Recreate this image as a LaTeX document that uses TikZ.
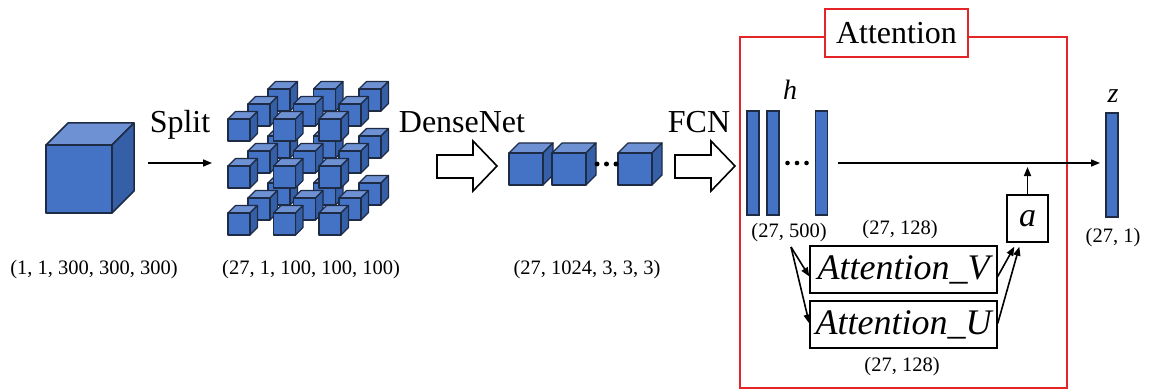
\documentclass[tikz,border=0pt]{standalone}
\usepackage{fontspec}
\setmainfont{Liberation Serif}
\usetikzlibrary{arrows.meta,calc}
\definecolor{cfront}{HTML}{4472C4}
\definecolor{ctop}{HTML}{6E91D3}
\definecolor{cside}{HTML}{3560A8}
\definecolor{cedge}{HTML}{1E2B45}
\definecolor{cred}{HTML}{E42528}
\newcommand\mycube[6]{%
  \filldraw[fill=ctop,draw=cedge,line width=#6,line join=round] (#1,#2) -- ++(#5,-#5) -- ++(#3,0) -- ++(-#5,#5) -- cycle;
  \filldraw[fill=cside,draw=cedge,line width=#6,line join=round] (#1+#3,#2) -- ++(#5,-#5) -- ++(0,#4) -- ++(-#5,#5) -- cycle;
  \filldraw[fill=cfront,draw=cedge,line width=#6,line join=round] (#1,#2) rectangle ++(#3,#4);
}
\begin{document}
\begin{tikzpicture}[x=1pt,y=-1pt,
  bigtxt/.style={font=\fontsize{32}{38}\selectfont},
  lbl/.style={font=\fontsize{20.5}{24}\selectfont},
  mathtxt/.style={font=\fontsize{28}{32}\selectfont\itshape},
  arr/.style={line width=1.6pt,-{Triangle[length=9pt,width=7pt]}},
  hollow/.style={line width=1.6pt,draw=black,fill=white,line join=miter},
  bar/.style={draw=cedge,fill=cfront,line width=1.2pt,minimum width=12pt,minimum height=104pt,inner sep=0pt},
  attbox/.style={draw=black,line width=1.4pt,minimum width=187pt,minimum height=47pt,inner sep=0pt,font=\fontsize{36}{40}\selectfont\itshape},
  dot/.style={circle,fill=black,inner sep=0pt,minimum size=5pt}
]
\useasboundingbox (0,0) rectangle (1155,390);

% big cube
\mycube{46}{145}{66}{68}{22}{1.5pt}
\coordinate (splitA) at (148,163);
\coordinate (splitB) at (212,163);
\draw[arr] (splitA) -- (splitB);
\node[bigtxt,anchor=base] (split) at (180,133) {Split};

% 3x3x3 grid of cubes
\foreach \L in {2,1,0}{
  \foreach \r in {0,1,2}{
    \foreach \c in {0,1,2}{
      \pgfmathsetmacro\cx{228+45.5*\c+20*\L}
      \pgfmathsetmacro\cy{119+47*\r-15*\L}
      \mycube{\cx}{\cy}{22}{22}{7.5}{1.1pt}
    }
  }
}

% DenseNet
\node[bigtxt,anchor=base] (dense) at (462,133) {DenseNet};
\draw[hollow] (437,155) -- (473,155) -- (473,141) -- (497,166) -- (473,191) -- (473,178) -- (437,178) -- cycle;

% dense cubes
\mycube{509}{153}{34}{32}{10}{1.2pt}
\mycube{552}{153}{34}{32}{10}{1.2pt}
\mycube{618}{153}{34}{32}{10}{1.2pt}
\node[dot] (d1) at (597,164) {};
\node[dot] (d2) at (606.5,164) {};
\node[dot] (d3) at (616,164) {};

% FCN
\node[bigtxt,anchor=base] (fcn) at (699,133) {FCN};
\draw[hollow] (675,155) -- (711,155) -- (711,141) -- (735,166) -- (711,191) -- (711,178) -- (675,178) -- cycle;

% labels
\node[lbl] (l1) at (94,270) {(1, 1, 300, 300, 300)};
\node[lbl] (l2) at (311,270) {(27, 1, 100, 100, 100)};
\node[lbl] (l3) at (587,270) {(27, 1024, 3, 3, 3)};

% attention frame
\draw[cred,line width=1.5pt] (740,37) rectangle (1067,388);
\node[draw=cred,fill=white,line width=2pt,minimum width=143pt,minimum height=48pt,inner sep=0pt,bigtxt] (atitle) at (896.5,33) {Attention};

% h bars
\node[bar] (h1) at (753,163) {};
\node[bar] (h2) at (773,163) {};
\node[bar] (h3) at (821.5,163) {};
\node[dot,minimum size=4.6pt] (hd1) at (787.5,163) {};
\node[dot,minimum size=4.6pt] (hd2) at (797,163) {};
\node[dot,minimum size=4.6pt] (hd3) at (806.5,163) {};
\node[mathtxt,anchor=base] (hlab) at (790,100) {h};
\node[lbl] (l4) at (789,233) {(27, 500)};

% z bar
\node[bar] (zbar) at (1112,165) {};
\node[mathtxt,anchor=base] (zlab) at (1113,103) {z};
\node[lbl] (l5) at (1113,238) {(27, 1)};

\draw[arr,shorten <=10pt,shorten >=12pt] (h3) -- (h3 -| zbar);

% a box
\node[draw=black,line width=1.4pt,minimum width=41pt,minimum height=47pt,inner sep=0pt,font=\fontsize{34}{38}\selectfont\itshape] (abox) at (1027.5,218.5) {a};
\coordinate (atip) at (1027.5,167);
\draw[arr] (abox.north) -- (atip);

% Attention V/U
\node[attbox] (AV) at (903.5,269.5) {Attention\_V};
\node[attbox] (AU) at (903.5,324.5) {Attention\_U};
\node[lbl] (l6) at (900,230) {(27, 128)};
\node[lbl] (l7) at (902,367) {(27, 128)};

\coordinate (hsrc) at (791,247);
\draw[arr] (hsrc) -- ($(AV.west)+(0,7)$);
\draw[arr] (hsrc) -- ($(AU.west)+(0,-1)$);
\draw[arr] ($(AV.east)+(0,7)$) -- ($(abox.south west)+(8,4)$);
\draw[arr] ($(AU.east)+(0,-1)$) -- ($(abox.south west)+(13,4)$);
\end{tikzpicture}
\end{document}
